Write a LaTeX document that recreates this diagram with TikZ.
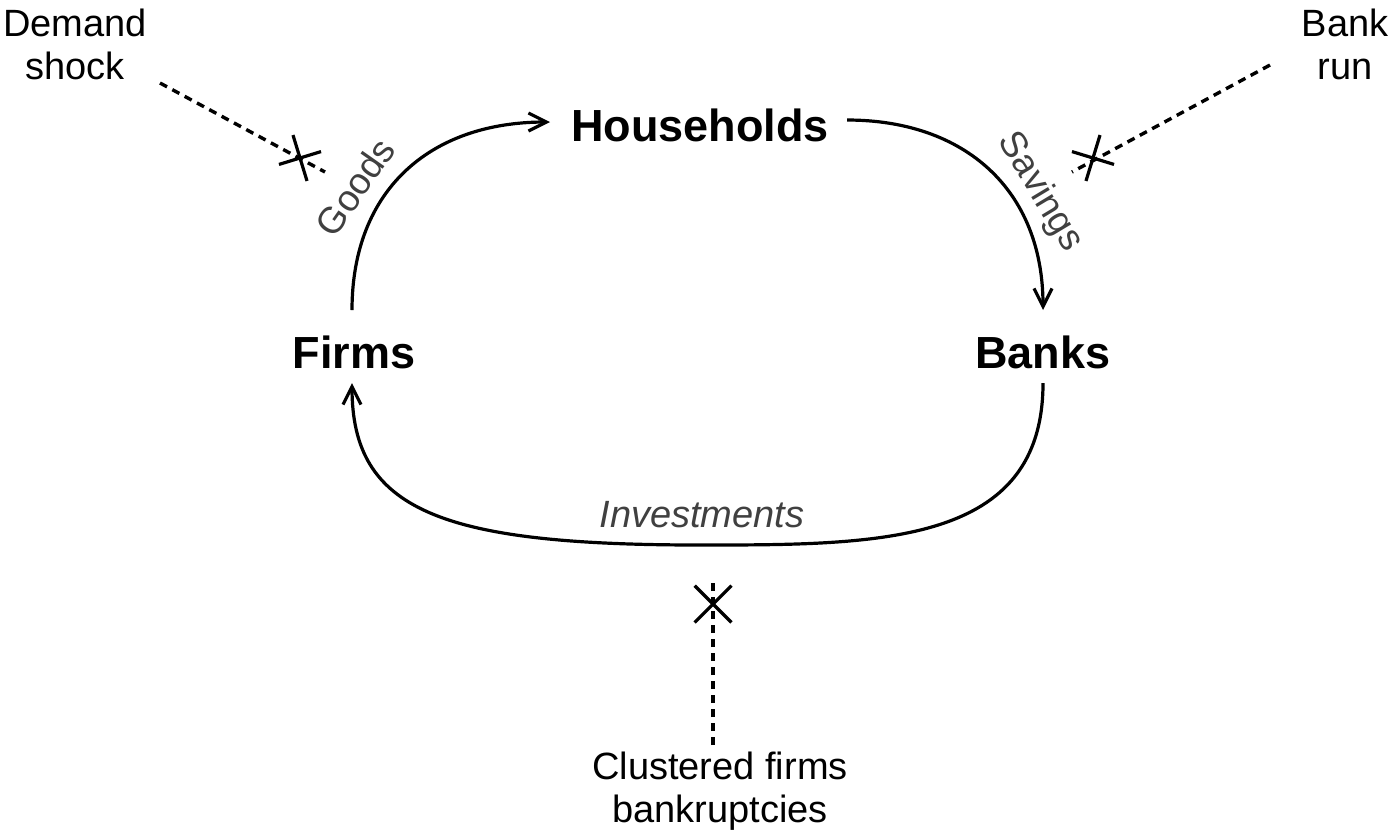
\documentclass[tikz,border=0pt]{standalone}
\usepackage{fontspec}
\setmainfont{Liberation Sans}
\usetikzlibrary{arrows.meta}
\begin{document}
\begin{tikzpicture}[x=0.5pt,y=-0.5pt,
  actor/.style={font=\fontsize{22.5}{26}\selectfont\bfseries, inner sep=0pt},
  shock/.style={font=\fontsize{19}{21.5}\selectfont, align=center, inner sep=0pt},
  flowlbl/.style={font=\fontsize{18.5}{20}\selectfont, text=black!75, inner sep=0pt},
  flow/.style={line width=1.6pt, -{Straight Barb[length=9pt,width=9pt,line width=1.6pt]}},
  cut/.style={line width=1.7pt, dash pattern=on 4pt off 3pt},
  xmark/.style={line width=1.6pt}]
\useasboundingbox (0,0) rectangle (1400,837);

% actors
\node[actor] (hh) at (700,125) {Households};
\node[actor] (fi) at (354,352) {Firms};
\node[actor] (ba) at (1043,352) {Banks};

% shocks
\node[shock] (ds) at (75,44) {Demand\\shock};
\node[shock] (br) at (1345,44) {Bank\\run};
\node[shock] (cf) at (720,791) {Clustered firms\\bankruptcies};

% flow anchors
\coordinate (g0) at (352,310);
\coordinate (g1) at (550,122);
\coordinate (s0) at (847,120);
\coordinate (s1) at (1043,310);
\coordinate (i0) at (1043,383);
\coordinate (im) at (700,545);
\coordinate (i1) at (352,383);

\draw[flow] (g0) .. controls (352,190) and (430,122) .. (g1);
\draw[flow] (s0) .. controls (965,120) and (1043,190) .. (s1);
\draw[flow] (i0) .. controls (1043,545) and (880,545) .. (im)
                 .. controls (440,545) and (352,510) .. (i1);

% flow labels
\node[flowlbl, rotate=55] (lg) at (355,187) {Goods};
\node[flowlbl, rotate=-59] (ls) at (1040,192) {Savings};
\node[flowlbl, font=\fontsize{19}{21.5}\selectfont\itshape] (li) at (702,515) {Investments};

% shock lines
\coordinate (d0) at (160,83);
\coordinate (d1) at (325,172);
\coordinate (dx) at (300,158);
\coordinate (b0) at (1270,65);
\coordinate (b1) at (1072,172);
\coordinate (bx) at (1093,158);
\coordinate (c0) at (713,745);
\coordinate (c1) at (713,578);
\coordinate (cx) at (713,604);

\draw[cut] (d0) -- (d1);
\draw[cut] (b0) -- (b1);
\draw[cut] (c0) -- (c1);

\draw[xmark, rotate around={17:(dx)}] ([xshift=-11]dx) -- ([xshift=11]dx) ([yshift=-12]dx) -- ([yshift=12]dx);
\draw[xmark, rotate around={-17:(bx)}] ([xshift=-11]bx) -- ([xshift=11]bx) ([yshift=-12]bx) -- ([yshift=12]bx);
\draw[xmark, rotate around={45:(cx)}] ([xshift=-13]cx) -- ([xshift=13]cx) ([yshift=-13]cx) -- ([yshift=13]cx);
\end{tikzpicture}
\end{document}
